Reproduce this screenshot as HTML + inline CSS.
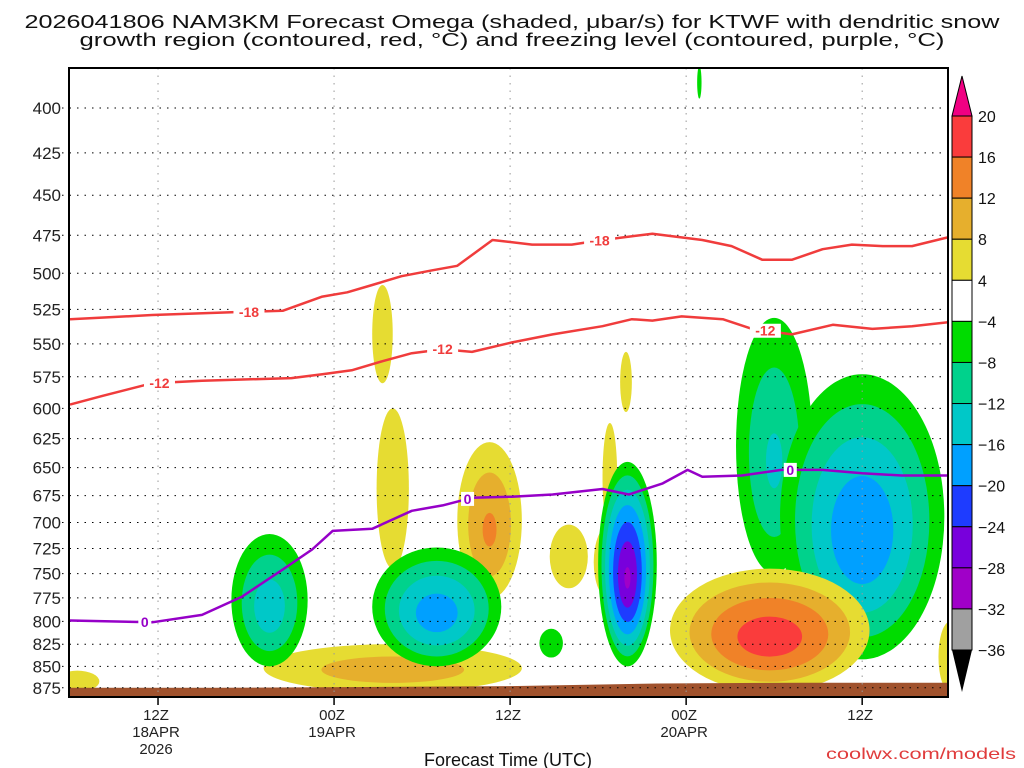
<!DOCTYPE html>
<html><head><meta charset="utf-8"><style>
html,body{margin:0;padding:0;background:#fff;width:1024px;height:768px;overflow:hidden}
svg{display:block;font-family:"Liberation Sans",sans-serif}
</style></head><body>
<svg id="chart" width="1024" height="768" viewBox="0 0 1024 768">
<text x="512" y="28" text-anchor="middle" font-size="18" fill="#111" textLength="975" lengthAdjust="spacingAndGlyphs">2026041806 NAM3KM Forecast Omega (shaded, μbar/s) for KTWF with dendritic snow</text>
<text x="512" y="46" text-anchor="middle" font-size="18" fill="#111" textLength="865" lengthAdjust="spacingAndGlyphs">growth region (contoured, red, °C) and freezing level (contoured, purple, °C)</text>
<defs><clipPath id="plotclip"><rect x="69" y="68" width="879" height="629"/></clipPath></defs>
<g id="shading" clip-path="url(#plotclip)"></g>
<g id="ground" clip-path="url(#plotclip)"></g>
<g id="grid"></g>
<g id="lines" clip-path="url(#plotclip)"></g>
<rect x="69" y="68" width="879" height="629" fill="none" stroke="#000" stroke-width="2"/>
<g id="axes"></g>
<g id="cbar"></g>
<text x="508" y="766" text-anchor="middle" font-size="18" fill="#111">Forecast Time (UTC)</text>
<text x="1016" y="759" text-anchor="end" font-size="16" fill="#e03c3c" textLength="190" lengthAdjust="spacingAndGlyphs">coolwx.com/models</text>
</svg>
<script>
// ---- data ----
const pressureTicks=[400,425,450,475,500,525,550,575,600,625,650,675,700,725,750,775,800,825,850,875];
const timeTickHours=[6,18,30,42,54];
const timeTickLabels=[["12Z","18APR","2026"],["00Z","19APR"],["12Z"],["00Z","20APR"],["12Z"]];
const cbarLevels=[20,16,12,8,4,-4,-8,-12,-16,-20,-24,-28,-32,-36];
const posLevels=[4,8,12,16,20];
const negLevels=[-4,-8,-12,-16,-20,-24,-28,-32];
// omega cells: hour, top pressure, bottom pressure, half-width (hours), peak omega
const blobHour=[21.3,22.0,28.6,34.0,36.8,37.9,36.8,22.0,0.5,60.0, 13.6,25.0,32.8,38.0,48.0,54.0,42.9,47.7];
const blobPTop=[508,600,628,702,702,556,612,825,855,800, 711,724,808,645,531,573,378,745];
const blobPBot=[580,745,776,765,777,603,709,880,880,880, 850,850,840,850,750,842,395,880];
const blobHalfW=[0.7,1.1,2.2,1.3,1.1,0.4,0.5,8.8,1.5,0.8, 2.6,4.4,0.8,2.0,2.6,5.6,0.15,6.8];
const blobPeak=[6,6,12,6,10,5,5,10,5,5, -14,-18,-6,-28,-12,-19,-6,18];
// contour lines
const m18Hours=[0,2,5.6,11,14.5,17.2,18.9,20.6,22.6,24.7,26.4,28.8,31.5,34.2,36.3,39.7,43.1,45.1,47.2,49.2,51.3,53.3,55.4,57.4,60];
const m18Pres=[532,531,529,527,526,516,513,508,502,498,495,478,481,481,478,474,478,482,491,491,484,481,482,482,476];
const m12Hours=[0,2.2,5.6,9,15.1,17.2,19.2,21.3,23.3,25.4,27.4,30.1,32.9,36.3,38.3,39.7,41.7,44.5,46.5,49.2,52,54.7,57.4,60];
const m12Pres=[597,590,580,578,576,573,570,563,557,554,556,549,543,537,532,533,530,532,539,543,536,539,537,534];
const frzHours=[0,5.6,9,11.7,14.5,16.5,17.9,20.6,23.3,25.4,27.4,30.1,32.9,36.3,38.1,40.4,42.1,43.1,45.8,48.5,51.3,54,56.7,60];
const frzPres=[799,801,793,774,746,726,708,706,689,684,677,676,674,669,674,664,652,658,657,652,652,655,657,657];
const m18LabelHours=[12.2,36.1];
const m12LabelHours=[6.1,25.4,47.4];
const frzLabelHours=[5.1,27.1,49.1];
const groundHours=[0,10,20,30,40,50,60];
const groundPres=[875,875,874,873,870,869,869];

// ---- scales ----
const NS="http://www.w3.org/2000/svg";
const X=h=>70+h*14.67;
const Y=p=>108+Math.log(p/400)*740.7;
function mk(tag,attrs,parent){const e=document.createElementNS(NS,tag);for(const k in attrs)e.setAttribute(k,attrs[k]);parent.appendChild(e);return e;}
const posColors={4:"#e6dc32",8:"#e6af2d",12:"#f08228",16:"#fa3c3c",20:"#f00082"};
const negColors={"-4":"#00dc00","-8":"#00d28c","-12":"#00c8c8","-16":"#00a0ff","-20":"#1e3cff","-24":"#7800dc","-28":"#a000c8","-32":"#a0a0a0"};
const cbarColors=["#fa3c3c","#f08228","#e6af2d","#e6dc32","#ffffff","#00dc00","#00d28c","#00c8c8","#00a0ff","#1e3cff","#7800dc","#a000c8","#a0a0a0"];

// ---- shading ----
const shading=document.getElementById('shading');
for(let i=0;i<blobHour.length;i++){
  const pk=blobPeak[i], a=Math.abs(pk);
  const levels=pk>0?posLevels:negLevels;
  const cx=X(blobHour[i]), y1=Y(blobPTop[i]), y2=Y(blobPBot[i]);
  const cy=(y1+y2)/2, ry=(y2-y1)/2, rx=blobHalfW[i]*14.67;
  for(const L of levels){
    const l=Math.abs(L); if(l>a) break;
    const s=Math.pow((a-l+1)/(a-3),0.7);
    const e=mk('ellipse',{cx:cx,cy:cy+(1-s)*ry*0.15,rx:rx*s,ry:ry*s,fill:pk>0?posColors[L]:negColors[L]},shading);
    
    
  }
}
// ---- ground ----
const ground=document.getElementById('ground');
let gd="M"+X(groundHours[0])+","+Y(groundPres[0]);
for(let i=1;i<groundHours.length;i++) gd+=" L"+X(groundHours[i])+","+Y(groundPres[i]);
gd+=" L"+X(60)+",700 L"+X(0)+",700 Z";
const gp=mk('path',{d:gd,fill:"#a0522d"},ground);



// ---- grid & axes ----
const grid=document.getElementById('grid'), axes=document.getElementById('axes');
for(const h of timeTickHours){
  const v=mk('line',{x1:X(h),x2:X(h),y1:68,y2:697,stroke:"#999","stroke-width":1,"stroke-dasharray":"1.5,6"},grid);
  
  
}
for(const p of pressureTicks){
  const y=Y(p);
  const g=mk('line',{x1:62,x2:948,y1:y,y2:y,stroke:"#000","stroke-width":1,"stroke-dasharray":"1.5,6"},grid);
  
  
  const t=mk('text',{x:61,y:y+6,"text-anchor":"end","font-size":17,fill:"#222"},axes);
  t.textContent=p;
  
  
}
timeTickHours.forEach((h,i)=>{
  const tk=mk('line',{x1:X(h),x2:X(h),y1:697,y2:705,stroke:"#000","stroke-width":1.5},axes);
  
  
  timeTickLabels[i].forEach((s,j)=>{
    const t=mk('text',{x:X(h)-2,y:720+j*17,"text-anchor":"middle","font-size":15,fill:"#222"},axes);
    t.textContent=s;
    
    
  });
});

// ---- contour lines ----
const lines=document.getElementById('lines');
function interp(hs,ps,h){for(let i=1;i<hs.length;i++){if(h<=hs[i]){const f=(h-hs[i-1])/(hs[i]-hs[i-1]);return ps[i-1]+f*(ps[i]-ps[i-1]);}}return ps[ps.length-1];}
function drawLine(hs,ps,color,name,labHours,label){
  const d=hs.map((h,i)=>(i?"L":"M")+X(h).toFixed(1)+","+Y(ps[i]).toFixed(1)).join(" ");
  const pth=mk('path',{d:d,fill:"none",stroke:color,"stroke-width":2.5,"stroke-linejoin":"round"},lines);
  
  
  for(const h of labHours){
    const x=X(h), y=Y(interp(hs,ps,h));
    const w=label.length*9+4;
    const r=mk('rect',{x:x-w/2,y:y-7,width:w,height:14,fill:"#fff"},lines);
    
    
    const t=mk('text',{x:x,y:y+5,"text-anchor":"middle","font-size":14,"font-weight":"bold",fill:color},lines);
    t.textContent=label;
    
    
  }
}
drawLine(m18Hours,m18Pres,"#f03c3c","minus18-isotherm",m18LabelHours,"-18");
drawLine(m12Hours,m12Pres,"#f03c3c","minus12-isotherm",m12LabelHours,"-12");
drawLine(frzHours,frzPres,"#9600c8","freezing-level",frzLabelHours,"0");

// ---- colorbar ----
const cbar=document.getElementById('cbar');
const cbTop=116, cbBot=650, seg=(cbBot-cbTop)/cbarColors.length;
const tri1=mk('polygon',{points:`952,${cbTop} 972,${cbTop} 962,76`,fill:"#f00082",stroke:"#000","stroke-width":1},cbar);


cbarColors.forEach((c,i)=>{
  const r=mk('rect',{x:952,y:cbTop+i*seg,width:20,height:seg,fill:c,stroke:"#000","stroke-width":1},cbar);
  
  
});
const tri2=mk('polygon',{points:`952,${cbBot} 972,${cbBot} 962,692`,fill:"#000"},cbar);


cbarLevels.forEach((v,i)=>{
  const t=mk('text',{x:978,y:cbTop+i*seg+6,"font-size":16,fill:"#111"},cbar);
  t.textContent=v<0?"\u2212"+(-v):String(v);
  
  
});
</script>
</body></html>
